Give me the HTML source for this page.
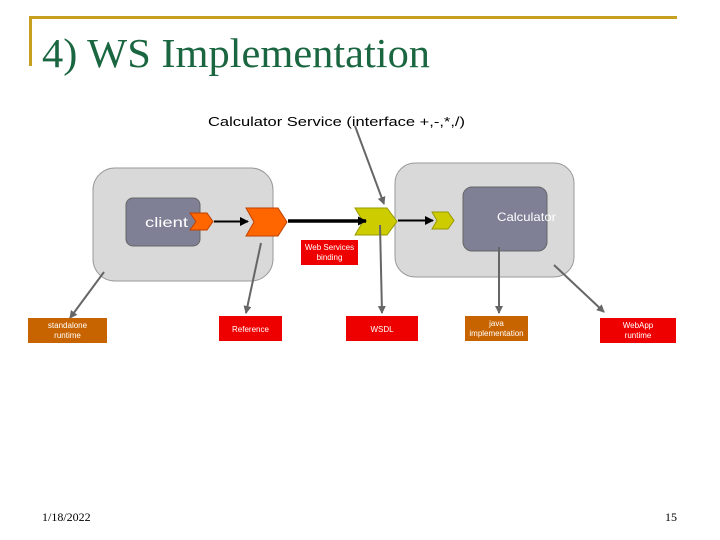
<!DOCTYPE html>
<html><head><meta charset="utf-8"><style>body{margin:0;background:#fff}svg{display:block}</style></head><body>
<svg width="720" height="540" xmlns="http://www.w3.org/2000/svg" font-family="Liberation Sans, sans-serif">
<defs>
<marker id="ga" markerWidth="8" markerHeight="8" refX="7" refY="4" orient="auto" markerUnits="userSpaceOnUse"><path d="M0,0 L8,4 L0,8 z" fill="#666"/></marker>
<marker id="ba" markerWidth="9" markerHeight="9" refX="8" refY="4.5" orient="auto" markerUnits="userSpaceOnUse"><path d="M0,0 L9,4.5 L0,9 z" fill="#000"/></marker>
</defs>
<path d="M30.5,66 V17.5 H677" fill="none" stroke="#c8a020" stroke-width="3"/>
<text x="42" y="67" font-family="Liberation Serif, serif" font-size="41" fill="#1a6640" textLength="388" lengthAdjust="spacingAndGlyphs">4) WS Implementation</text>
<text x="208" y="126" font-size="13" fill="#000" textLength="257" lengthAdjust="spacingAndGlyphs">Calculator Service (interface +,-,*,/)</text>
<rect x="93" y="168" width="180" height="113" rx="22" fill="#d9d9d9" stroke="#999"/>
<rect x="395" y="163" width="179" height="114" rx="20" fill="#d9d9d9" stroke="#999"/>
<rect x="126" y="198" width="74" height="48" rx="7" fill="#7f7f96" stroke="#666"/>
<text x="145" y="227" font-size="14" fill="#fff" textLength="43" lengthAdjust="spacingAndGlyphs">client</text>
<rect x="463" y="187" width="84" height="64" rx="9" fill="#7f7f96" stroke="#666"/>
<text x="497" y="221" font-size="12" fill="#fff" textLength="59" lengthAdjust="spacingAndGlyphs">Calculator</text>
<path d="M190,213 H207 L213,221.5 L207,230 H190 L196,221.5 z" fill="#ff6600" stroke="#c04000"/>
<path d="M246,208 H278 L287,222 L278,236 H246 L254,222 z" fill="#ff6600" stroke="#c04000"/>
<path d="M355,208 H387 L397,221.5 L387,235 H355 L363,221.5 z" fill="#cccc00" stroke="#999900"/>
<path d="M432,212 H448 L454,220.5 L448,229 H432 L437,220.5 z" fill="#cccc00" stroke="#999900"/>
<line x1="214" y1="221.5" x2="248" y2="221.5" stroke="#000" stroke-width="2" marker-end="url(#ba)"/>
<line x1="288" y1="221" x2="366" y2="221" stroke="#000" stroke-width="3.5" marker-end="url(#ba)"/>
<line x1="398" y1="220.5" x2="433" y2="220.5" stroke="#000" stroke-width="2" marker-end="url(#ba)"/>
<g stroke="#666" stroke-width="2" fill="none" marker-end="url(#ga)">
<line x1="355" y1="126" x2="384" y2="204"/>
<line x1="104" y1="272" x2="70" y2="318"/>
<line x1="261" y1="243" x2="246" y2="313"/>
<line x1="380" y1="225" x2="382" y2="313"/>
<line x1="499" y1="247" x2="499" y2="313"/>
<line x1="554" y1="265" x2="604" y2="312"/>
</g>
<g font-size="8" fill="#fff" text-anchor="middle">
<rect x="301" y="240" width="57" height="25" fill="#ee0000"/>
<text x="329.5" y="250">Web Services</text><text x="329.5" y="260">binding</text>
<rect x="28" y="318" width="79" height="25" fill="#c86400"/>
<text x="67.5" y="328">standalone</text><text x="67.5" y="338">runtime</text>
<rect x="219" y="316" width="63" height="25" fill="#ee0000"/>
<text x="250.5" y="332">Reference</text>
<rect x="346" y="316" width="72" height="25" fill="#ee0000"/>
<text x="382" y="332">WSDL</text>
<rect x="465" y="316" width="63" height="25" fill="#c86400"/>
<text x="496.5" y="326">java</text><text x="496.5" y="336">implementation</text>
<rect x="600" y="318" width="76" height="25" fill="#ee0000"/>
<text x="638" y="328">WebApp</text><text x="638" y="338">runtime</text>
</g>
<text x="42" y="521" font-family="Liberation Serif, serif" font-size="12" fill="#000">1/18/2022</text>
<text x="677" y="521" font-family="Liberation Serif, serif" font-size="12" fill="#000" text-anchor="end">15</text>
</svg>
</body></html>
